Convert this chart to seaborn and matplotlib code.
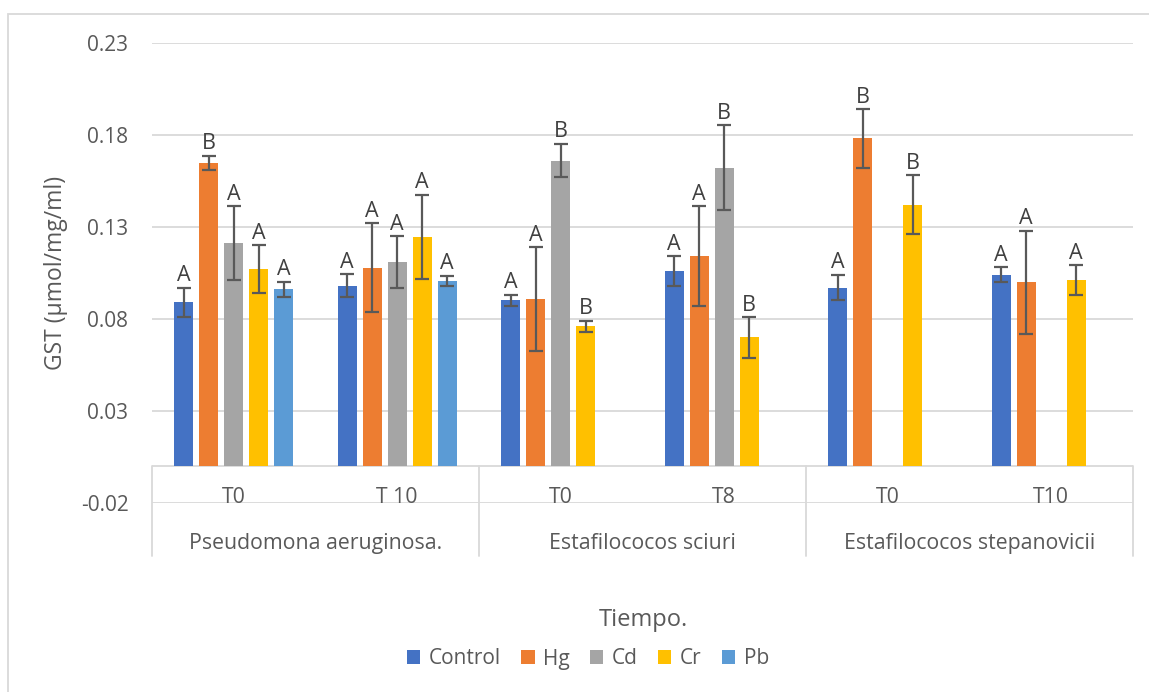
import numpy as np
import pandas as pd
import seaborn as sns
import matplotlib
matplotlib.use("Agg")
import matplotlib.pyplot as plt
from matplotlib.patches import Patch, Rectangle
from matplotlib.lines import Line2D

# ---- data -------------------------------------------------------------
metals = ["Control", "Hg", "Cd", "Cr", "Pb"]
colors = ["#4472C4", "#ED7D31", "#A5A5A5", "#FFC000", "#5B9BD5"]

organisms = ["Pseudomona aeruginosa.", "Estafilococos sciuri", "Estafilococos stepanovicii"]
times = ["T0", "T 10", "T0", "T8", "T0", "T10"]
time_org = [0, 0, 1, 1, 2, 2]

# mean GST per time point (rows) and metal (columns); nan = not measured
gst_mean = [
    [0.0891, 0.1649, 0.1213, 0.1071, 0.0962],
    [0.0982, 0.1078, 0.1111, 0.1245, 0.1007],
    [0.0902, 0.0909, 0.1661, 0.0760, np.nan],
    [0.1060, 0.1142, 0.1621, 0.0700, np.nan],
    [0.0971, 0.1781, np.nan, 0.1420, np.nan],
    [0.1040, 0.1000, np.nan, 0.1011, np.nan],
]
gst_err = [
    [0.0080, 0.0038, 0.0200, 0.0130, 0.0041],
    [0.0060, 0.0242, 0.0140, 0.0230, 0.0029],
    [0.0031, 0.0282, 0.0091, 0.0031, np.nan],
    [0.0082, 0.0271, 0.0231, 0.0110, np.nan],
    [0.0070, 0.0159, np.nan, 0.0160, np.nan],
    [0.0040, 0.0280, np.nan, 0.0081, np.nan],
]
letters = [
    ["A", "B", "A", "A", "A"],
    ["A", "A", "A", "A", "A"],
    ["A", "A", "B", "B", ""],
    ["A", "A", "B", "B", ""],
    ["A", "B", "", "B", ""],
    ["A", "A", "", "A", ""],
]
y_ticks = [-0.02, 0.03, 0.08, 0.13, 0.18, 0.23]

# ---- long-form table ---------------------------------------------------
rows = []
for i in range(len(times)):
    for j, m in enumerate(metals):
        v = gst_mean[i][j]
        if not np.isnan(v):
            rows.append({"pos": i, "metal": m, "gst": v,
                         "err": gst_err[i][j], "letter": letters[i][j]})
df = pd.DataFrame(rows)

# ---- figure ------------------------------------------------------------
sns.set_theme(style="white")
plt.rcParams["font.family"] = ["Open Sans", "DejaVu Sans"]
text_color = "#595959"
grid_color = "#D9D9D9"

W, H = 1149, 692
fig = plt.figure(figsize=(W / 100, H / 100), dpi=100)
ax = fig.add_axes([152 / W, 1 - 503 / H, (1133 - 152) / W, (503 - 43) / H])

sns.barplot(data=df, x="pos", y="gst", hue="metal", hue_order=metals,
            order=list(range(len(times))), palette=colors, errorbar=None,
            width=0.765, gap=0.24, saturation=1, linewidth=0, ax=ax,
            legend=False, zorder=3)

# error bars and significance letters
lookup = {(r.pos, r.metal): (r.err, r.letter) for r in df.itertuples()}
for metal, cont in zip(metals, ax.containers):
    for patch in cont.patches:
        h = patch.get_height()
        if np.isnan(h):
            continue
        xc = patch.get_x() + patch.get_width() / 2
        pos = int(round(xc))
        err, let = lookup[(pos, metal)]
        ax.errorbar(xc, h, yerr=err, fmt="none", ecolor="#595959",
                    elinewidth=1.6, capsize=5, capthick=1.6, zorder=4)
        ax.annotate(let, (xc, h + err), xytext=(0, 1), textcoords="offset points",
                    ha="center", va="bottom", fontsize=15.5, color="#404040", zorder=5)

# axes styling
ax.set_ylim(-0.02, 0.23)
ax.set_xlim(-0.5, len(times) - 0.5)
ax.set_yticks(y_ticks)
ax.set_yticklabels([f"{t:.2f}" for t in y_ticks], fontsize=15, color=text_color)
ax.tick_params(axis="y", length=0, pad=17)
ax.set_xticks([])
ax.set_xlabel("")
ax.set_ylabel("GST (µmol/mg/ml)", fontsize=16.5, color=text_color)
ax.yaxis.set_label_coords((68 - 152) / 981, 0.5)
for s in ax.spines.values():
    s.set_visible(False)
for t in y_ticks:
    ax.axhline(t, color=grid_color, lw=1.3, zorder=0)
ax.axhline(0, color=grid_color, lw=1.3, zorder=2)

# two-level category axis below y = 0
y_bottom = -0.0486
for xb in [-0.5, 1.5, 3.5, 5.5]:
    ax.add_line(Line2D([xb, xb], [0, y_bottom], color=grid_color, lw=1.3,
                       clip_on=False, zorder=2))
for i, t in enumerate(times):
    ax.text(i, -0.0172, t, ha="center", va="center", fontsize=15.3,
            color=text_color, clip_on=False)
for g, name in enumerate(organisms):
    ax.text(2 * g + 0.5, -0.0420, name, ha="center", va="center", fontsize=15.3,
            color=text_color, clip_on=False)

fig.text(643 / W, 1 - 620 / H, "Tiempo.", ha="center", va="center",
         fontsize=17, color=text_color)

handles = [Patch(facecolor=c, edgecolor="none") for c in colors]
fig.legend(handles, metals, loc="center", bbox_to_anchor=(588 / W, 1 - 659 / H),
           ncol=5, frameon=False, fontsize=15, handlelength=0.65,
           handleheight=0.65, handletextpad=0.42, columnspacing=0.95,
           labelcolor=text_color)

# chart frame
fig.patches.append(Rectangle((8 / W, -0.1), 1.2, 1 - 14 / H + 0.1,
                             transform=fig.transFigure, fill=False,
                             edgecolor=grid_color, lw=1.3))

fig.savefig("out.png", dpi=100, facecolor="white")
